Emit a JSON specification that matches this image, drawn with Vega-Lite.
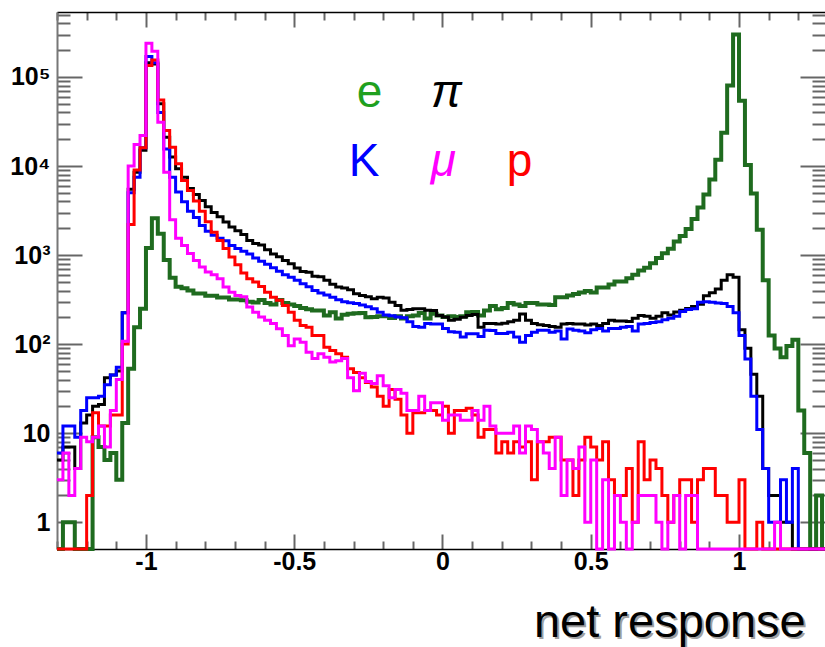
{
  "$schema": "https://vega.github.io/schema/vega-lite/v6.json",
  "width": 768,
  "height": 537,
  "autosize": {"type": "none"},
  "padding": {"left": 57, "top": 12, "right": 0, "bottom": 98},
  "background": "white",
  "config": {"view": {"stroke": null}},
  "datasets": {
    "e": [{"x":-1.3,"n":0},{"x":-1.28,"n":1},{"x":-1.26,"n":1},{"x":-1.24,"n":0},{"x":-1.22,"n":0},{"x":-1.2,"n":0},{"x":-1.18,"n":9},{"x":-1.16,"n":7},{"x":-1.14,"n":5},{"x":-1.12,"n":6},{"x":-1.1,"n":3},{"x":-1.08,"n":13},{"x":-1.06,"n":53},{"x":-1.04,"n":155},{"x":-1.02,"n":250},{"x":-1,"n":1200},{"x":-0.98,"n":2600},{"x":-0.96,"n":1740},{"x":-0.94,"n":880},{"x":-0.92,"n":555},{"x":-0.9,"n":440},{"x":-0.88,"n":425},{"x":-0.86,"n":400},{"x":-0.84,"n":370},{"x":-0.82,"n":370},{"x":-0.8,"n":350},{"x":-0.78,"n":350},{"x":-0.76,"n":334},{"x":-0.74,"n":334},{"x":-0.72,"n":318},{"x":-0.7,"n":318},{"x":-0.68,"n":310},{"x":-0.66,"n":300},{"x":-0.64,"n":294},{"x":-0.62,"n":313},{"x":-0.6,"n":290},{"x":-0.58,"n":279},{"x":-0.56,"n":313},{"x":-0.54,"n":290},{"x":-0.52,"n":279},{"x":-0.5,"n":268},{"x":-0.48,"n":255},{"x":-0.46,"n":247},{"x":-0.44,"n":238},{"x":-0.42,"n":238},{"x":-0.4,"n":210},{"x":-0.38,"n":228},{"x":-0.36,"n":194},{"x":-0.34,"n":214},{"x":-0.32,"n":219},{"x":-0.3,"n":222},{"x":-0.28,"n":224},{"x":-0.26,"n":200},{"x":-0.24,"n":201},{"x":-0.22,"n":205},{"x":-0.2,"n":205},{"x":-0.18,"n":196},{"x":-0.16,"n":205},{"x":-0.14,"n":194},{"x":-0.12,"n":205},{"x":-0.1,"n":210},{"x":-0.08,"n":224},{"x":-0.06,"n":194},{"x":-0.04,"n":219},{"x":-0.02,"n":210},{"x":0,"n":201},{"x":0.02,"n":205},{"x":0.04,"n":201},{"x":0.06,"n":205},{"x":0.08,"n":228},{"x":0.1,"n":230},{"x":0.12,"n":210},{"x":0.14,"n":238},{"x":0.16,"n":268},{"x":0.18,"n":247},{"x":0.2,"n":255},{"x":0.22,"n":290},{"x":0.24,"n":279},{"x":0.26,"n":268},{"x":0.28,"n":290},{"x":0.3,"n":290},{"x":0.32,"n":279},{"x":0.34,"n":279},{"x":0.36,"n":275},{"x":0.38,"n":337},{"x":0.4,"n":337},{"x":0.42,"n":352},{"x":0.44,"n":365},{"x":0.46,"n":380},{"x":0.48,"n":395},{"x":0.5,"n":380},{"x":0.52,"n":433},{"x":0.54,"n":433},{"x":0.56,"n":467},{"x":0.58,"n":504},{"x":0.6,"n":504},{"x":0.62,"n":550},{"x":0.64,"n":600},{"x":0.66,"n":670},{"x":0.68,"n":720},{"x":0.7,"n":810},{"x":0.72,"n":930},{"x":0.74,"n":1050},{"x":0.76,"n":1180},{"x":0.78,"n":1420},{"x":0.8,"n":1640},{"x":0.82,"n":1960},{"x":0.84,"n":2540},{"x":0.86,"n":3420},{"x":0.88,"n":4800},{"x":0.9,"n":7050},{"x":0.92,"n":11800},{"x":0.94,"n":23700},{"x":0.96,"n":80500},{"x":0.98,"n":300000},{"x":1,"n":54000},{"x":1.02,"n":10300},{"x":1.04,"n":4900},{"x":1.06,"n":1930},{"x":1.08,"n":521},{"x":1.1,"n":125},{"x":1.12,"n":89},{"x":1.14,"n":71},{"x":1.16,"n":95},{"x":1.18,"n":112},{"x":1.2,"n":18},{"x":1.22,"n":6},{"x":1.24,"n":0},{"x":1.26,"n":2},{"x":1.28,"n":0},{"x":1.3,"n":0}],
    "pi": [{"x":-1.3,"n":5},{"x":-1.28,"n":7},{"x":-1.26,"n":7},{"x":-1.24,"n":4},{"x":-1.22,"n":13},{"x":-1.2,"n":16},{"x":-1.18,"n":20},{"x":-1.16,"n":21},{"x":-1.14,"n":42},{"x":-1.12,"n":45},{"x":-1.1,"n":50},{"x":-1.08,"n":225},{"x":-1.06,"n":5500},{"x":-1.04,"n":8500},{"x":-1.02,"n":15000},{"x":-1,"n":145000},{"x":-0.98,"n":140000},{"x":-0.96,"n":50000},{"x":-0.94,"n":21000},{"x":-0.92,"n":12600},{"x":-0.9,"n":9300},{"x":-0.88,"n":7500},{"x":-0.86,"n":5600},{"x":-0.84,"n":4800},{"x":-0.82,"n":4100},{"x":-0.8,"n":3500},{"x":-0.78,"n":3000},{"x":-0.76,"n":2700},{"x":-0.74,"n":2350},{"x":-0.72,"n":2065},{"x":-0.7,"n":1870},{"x":-0.68,"n":1700},{"x":-0.66,"n":1460},{"x":-0.64,"n":1350},{"x":-0.62,"n":1300},{"x":-0.6,"n":1150},{"x":-0.58,"n":1025},{"x":-0.56,"n":960},{"x":-0.54,"n":870},{"x":-0.52,"n":800},{"x":-0.5,"n":715},{"x":-0.48,"n":655},{"x":-0.46,"n":640},{"x":-0.44,"n":580},{"x":-0.42,"n":570},{"x":-0.4,"n":520},{"x":-0.38,"n":470},{"x":-0.36,"n":437},{"x":-0.34,"n":426},{"x":-0.32,"n":408},{"x":-0.3,"n":368},{"x":-0.28,"n":352},{"x":-0.26,"n":340},{"x":-0.24,"n":324},{"x":-0.22,"n":337},{"x":-0.2,"n":330},{"x":-0.18,"n":296},{"x":-0.16,"n":272},{"x":-0.14,"n":240},{"x":-0.12,"n":245},{"x":-0.1,"n":250},{"x":-0.08,"n":250},{"x":-0.06,"n":240},{"x":-0.04,"n":238},{"x":-0.02,"n":210},{"x":0,"n":201},{"x":0.02,"n":185},{"x":0.04,"n":190},{"x":0.06,"n":200},{"x":0.08,"n":210},{"x":0.1,"n":215},{"x":0.12,"n":155},{"x":0.14,"n":170},{"x":0.16,"n":170},{"x":0.18,"n":168},{"x":0.2,"n":172},{"x":0.22,"n":178},{"x":0.24,"n":185},{"x":0.26,"n":218},{"x":0.28,"n":185},{"x":0.3,"n":170},{"x":0.32,"n":165},{"x":0.34,"n":162},{"x":0.36,"n":158},{"x":0.38,"n":155},{"x":0.4,"n":168},{"x":0.42,"n":170},{"x":0.44,"n":168},{"x":0.46,"n":168},{"x":0.48,"n":164},{"x":0.5,"n":168},{"x":0.52,"n":162},{"x":0.54,"n":170},{"x":0.56,"n":185},{"x":0.58,"n":182},{"x":0.6,"n":182},{"x":0.62,"n":180},{"x":0.64,"n":195},{"x":0.66,"n":210},{"x":0.68,"n":205},{"x":0.7,"n":195},{"x":0.72,"n":205},{"x":0.74,"n":225},{"x":0.76,"n":212},{"x":0.78,"n":230},{"x":0.8,"n":240},{"x":0.82,"n":251},{"x":0.84,"n":265},{"x":0.86,"n":280},{"x":0.88,"n":350},{"x":0.9,"n":378},{"x":0.92,"n":417},{"x":0.94,"n":522},{"x":0.96,"n":600},{"x":0.98,"n":565},{"x":1,"n":145},{"x":1.02,"n":90},{"x":1.04,"n":46},{"x":1.06,"n":26},{"x":1.08,"n":4},{"x":1.1,"n":2},{"x":1.12,"n":2},{"x":1.14,"n":1},{"x":1.16,"n":1},{"x":1.18,"n":0},{"x":1.2,"n":0},{"x":1.22,"n":0},{"x":1.24,"n":0},{"x":1.26,"n":0},{"x":1.28,"n":0},{"x":1.3,"n":0}],
    "K": [{"x":-1.3,"n":6},{"x":-1.28,"n":12},{"x":-1.26,"n":12},{"x":-1.24,"n":9},{"x":-1.22,"n":18},{"x":-1.2,"n":25},{"x":-1.18,"n":25},{"x":-1.16,"n":26},{"x":-1.14,"n":35},{"x":-1.12,"n":45},{"x":-1.1,"n":55},{"x":-1.08,"n":225},{"x":-1.06,"n":5000},{"x":-1.04,"n":7500},{"x":-1.02,"n":16000},{"x":-1,"n":170000},{"x":-0.98,"n":145000},{"x":-0.96,"n":40000},{"x":-0.94,"n":15500},{"x":-0.92,"n":7500},{"x":-0.9,"n":5100},{"x":-0.88,"n":3970},{"x":-0.86,"n":3100},{"x":-0.84,"n":2640},{"x":-0.82,"n":2150},{"x":-0.8,"n":1850},{"x":-0.78,"n":1665},{"x":-0.76,"n":1550},{"x":-0.74,"n":1445},{"x":-0.72,"n":1285},{"x":-0.7,"n":1185},{"x":-0.68,"n":1105},{"x":-0.66,"n":1025},{"x":-0.64,"n":930},{"x":-0.62,"n":850},{"x":-0.6,"n":790},{"x":-0.58,"n":720},{"x":-0.56,"n":660},{"x":-0.54,"n":600},{"x":-0.52,"n":565},{"x":-0.5,"n":520},{"x":-0.48,"n":477},{"x":-0.46,"n":440},{"x":-0.44,"n":400},{"x":-0.42,"n":375},{"x":-0.4,"n":355},{"x":-0.38,"n":335},{"x":-0.36,"n":315},{"x":-0.34,"n":300},{"x":-0.32,"n":292},{"x":-0.3,"n":285},{"x":-0.28,"n":275},{"x":-0.26,"n":262},{"x":-0.24,"n":250},{"x":-0.22,"n":228},{"x":-0.2,"n":212},{"x":-0.18,"n":208},{"x":-0.16,"n":201},{"x":-0.14,"n":198},{"x":-0.12,"n":178},{"x":-0.1,"n":158},{"x":-0.08,"n":155},{"x":-0.06,"n":170},{"x":-0.04,"n":168},{"x":-0.02,"n":168},{"x":0,"n":150},{"x":0.02,"n":138},{"x":0.04,"n":136},{"x":0.06,"n":120},{"x":0.08,"n":131},{"x":0.1,"n":131},{"x":0.12,"n":122},{"x":0.14,"n":143},{"x":0.16,"n":142},{"x":0.18,"n":132},{"x":0.2,"n":132},{"x":0.22,"n":136},{"x":0.24,"n":120},{"x":0.26,"n":105},{"x":0.28,"n":125},{"x":0.3,"n":136},{"x":0.32,"n":143},{"x":0.34,"n":143},{"x":0.36,"n":136},{"x":0.38,"n":140},{"x":0.4,"n":114},{"x":0.42,"n":148},{"x":0.44,"n":143},{"x":0.46,"n":140},{"x":0.48,"n":134},{"x":0.5,"n":145},{"x":0.52,"n":150},{"x":0.54,"n":140},{"x":0.56,"n":150},{"x":0.58,"n":150},{"x":0.6,"n":155},{"x":0.62,"n":158},{"x":0.64,"n":140},{"x":0.66,"n":168},{"x":0.68,"n":170},{"x":0.7,"n":175},{"x":0.72,"n":178},{"x":0.74,"n":188},{"x":0.76,"n":195},{"x":0.78,"n":205},{"x":0.8,"n":232},{"x":0.82,"n":245},{"x":0.84,"n":250},{"x":0.86,"n":295},{"x":0.88,"n":300},{"x":0.9,"n":295},{"x":0.92,"n":290},{"x":0.94,"n":285},{"x":0.96,"n":265},{"x":0.98,"n":225},{"x":1,"n":125},{"x":1.02,"n":68},{"x":1.04,"n":26},{"x":1.06,"n":11},{"x":1.08,"n":4},{"x":1.1,"n":1},{"x":1.12,"n":1},{"x":1.14,"n":3},{"x":1.16,"n":1},{"x":1.18,"n":4},{"x":1.2,"n":0},{"x":1.22,"n":0},{"x":1.24,"n":0},{"x":1.26,"n":0},{"x":1.28,"n":0},{"x":1.3,"n":0}],
    "p": [{"x":-1.3,"n":0},{"x":-1.28,"n":0},{"x":-1.26,"n":0},{"x":-1.24,"n":0},{"x":-1.22,"n":0},{"x":-1.2,"n":2},{"x":-1.18,"n":17},{"x":-1.16,"n":12},{"x":-1.14,"n":12},{"x":-1.12,"n":16},{"x":-1.1,"n":16},{"x":-1.08,"n":100},{"x":-1.06,"n":2200},{"x":-1.04,"n":9000},{"x":-1.02,"n":16000},{"x":-1,"n":135000},{"x":-0.98,"n":155000},{"x":-0.96,"n":55000},{"x":-0.94,"n":25000},{"x":-0.92,"n":16300},{"x":-0.9,"n":10600},{"x":-0.88,"n":6900},{"x":-0.86,"n":5300},{"x":-0.84,"n":4050},{"x":-0.82,"n":3100},{"x":-0.8,"n":2370},{"x":-0.78,"n":1810},{"x":-0.76,"n":1460},{"x":-0.74,"n":1185},{"x":-0.72,"n":950},{"x":-0.7,"n":780},{"x":-0.68,"n":630},{"x":-0.66,"n":543},{"x":-0.64,"n":498},{"x":-0.62,"n":443},{"x":-0.6,"n":382},{"x":-0.58,"n":337},{"x":-0.56,"n":310},{"x":-0.54,"n":272},{"x":-0.52,"n":228},{"x":-0.5,"n":185},{"x":-0.48,"n":162},{"x":-0.46,"n":155},{"x":-0.44,"n":125},{"x":-0.42,"n":125},{"x":-0.4,"n":92},{"x":-0.38,"n":85},{"x":-0.36,"n":78},{"x":-0.34,"n":71},{"x":-0.32,"n":53},{"x":-0.3,"n":48},{"x":-0.28,"n":42},{"x":-0.26,"n":37},{"x":-0.24,"n":33},{"x":-0.22,"n":26},{"x":-0.2,"n":20},{"x":-0.18,"n":31},{"x":-0.16,"n":24},{"x":-0.14,"n":16},{"x":-0.12,"n":10},{"x":-0.1,"n":17},{"x":-0.08,"n":17},{"x":-0.06,"n":18},{"x":-0.04,"n":18},{"x":-0.02,"n":16},{"x":0,"n":20},{"x":0.02,"n":10},{"x":0.04,"n":18},{"x":0.06,"n":18},{"x":0.08,"n":19},{"x":0.1,"n":16},{"x":0.12,"n":9},{"x":0.14,"n":11},{"x":0.16,"n":11},{"x":0.18,"n":6},{"x":0.2,"n":8},{"x":0.22,"n":6},{"x":0.24,"n":8},{"x":0.26,"n":7},{"x":0.28,"n":8},{"x":0.3,"n":3},{"x":0.32,"n":8},{"x":0.34,"n":8},{"x":0.36,"n":9},{"x":0.38,"n":9},{"x":0.4,"n":5},{"x":0.42,"n":5},{"x":0.44,"n":2},{"x":0.46,"n":5},{"x":0.48,"n":9},{"x":0.5,"n":7},{"x":0.52,"n":5},{"x":0.54,"n":8},{"x":0.56,"n":3},{"x":0.58,"n":2},{"x":0.6,"n":2},{"x":0.62,"n":4},{"x":0.64,"n":1},{"x":0.66,"n":8},{"x":0.68,"n":3},{"x":0.7,"n":5},{"x":0.72,"n":4},{"x":0.74,"n":2},{"x":0.76,"n":1},{"x":0.78,"n":2},{"x":0.8,"n":3},{"x":0.82,"n":3},{"x":0.84,"n":1},{"x":0.86,"n":3},{"x":0.88,"n":4},{"x":0.9,"n":4},{"x":0.92,"n":2},{"x":0.94,"n":2},{"x":0.96,"n":1},{"x":0.98,"n":1},{"x":1,"n":3},{"x":1.02,"n":0},{"x":1.04,"n":0},{"x":1.06,"n":1},{"x":1.08,"n":0},{"x":1.1,"n":0},{"x":1.12,"n":0},{"x":1.14,"n":0},{"x":1.16,"n":0},{"x":1.18,"n":0},{"x":1.2,"n":0},{"x":1.22,"n":0},{"x":1.24,"n":0},{"x":1.26,"n":0},{"x":1.28,"n":0},{"x":1.3,"n":0}],
    "mu": [{"x":-1.3,"n":3},{"x":-1.28,"n":6},{"x":-1.26,"n":2},{"x":-1.24,"n":4},{"x":-1.22,"n":9},{"x":-1.2,"n":8},{"x":-1.18,"n":9},{"x":-1.16,"n":12},{"x":-1.14,"n":7},{"x":-1.12,"n":18},{"x":-1.1,"n":40},{"x":-1.08,"n":108},{"x":-1.06,"n":10000},{"x":-1.04,"n":17500},{"x":-1.02,"n":22000},{"x":-1,"n":240000},{"x":-0.98,"n":195000},{"x":-0.96,"n":31000},{"x":-0.94,"n":8500},{"x":-0.92,"n":2500},{"x":-0.9,"n":1550},{"x":-0.88,"n":1285},{"x":-0.86,"n":1040},{"x":-0.84,"n":870},{"x":-0.82,"n":733},{"x":-0.8,"n":645},{"x":-0.78,"n":600},{"x":-0.76,"n":543},{"x":-0.74,"n":437},{"x":-0.72,"n":382},{"x":-0.7,"n":352},{"x":-0.68,"n":340},{"x":-0.66,"n":261},{"x":-0.64,"n":228},{"x":-0.62,"n":201},{"x":-0.6,"n":185},{"x":-0.58,"n":170},{"x":-0.56,"n":149},{"x":-0.54,"n":125},{"x":-0.52,"n":96},{"x":-0.5,"n":114},{"x":-0.48,"n":105},{"x":-0.46,"n":81},{"x":-0.44,"n":69},{"x":-0.42,"n":78},{"x":-0.4,"n":71},{"x":-0.38,"n":63},{"x":-0.36,"n":65},{"x":-0.34,"n":69},{"x":-0.32,"n":42},{"x":-0.3,"n":30},{"x":-0.28,"n":47},{"x":-0.26,"n":38},{"x":-0.24,"n":36},{"x":-0.22,"n":44},{"x":-0.2,"n":34},{"x":-0.18,"n":25},{"x":-0.16,"n":31},{"x":-0.14,"n":28},{"x":-0.12,"n":18},{"x":-0.1,"n":18},{"x":-0.08,"n":26},{"x":-0.06,"n":18},{"x":-0.04,"n":22},{"x":-0.02,"n":22},{"x":0,"n":14},{"x":0.02,"n":16},{"x":0.04,"n":16},{"x":0.06,"n":14},{"x":0.08,"n":14},{"x":0.1,"n":18},{"x":0.12,"n":14},{"x":0.14,"n":20},{"x":0.16,"n":12},{"x":0.18,"n":10},{"x":0.2,"n":10},{"x":0.22,"n":10},{"x":0.24,"n":12},{"x":0.26,"n":6},{"x":0.28,"n":12},{"x":0.3,"n":11},{"x":0.32,"n":8},{"x":0.34,"n":6},{"x":0.36,"n":4},{"x":0.38,"n":9},{"x":0.4,"n":2},{"x":0.42,"n":5},{"x":0.44,"n":4},{"x":0.46,"n":7},{"x":0.48,"n":1},{"x":0.5,"n":5},{"x":0.52,"n":0},{"x":0.54,"n":3},{"x":0.56,"n":0},{"x":0.58,"n":2},{"x":0.6,"n":1},{"x":0.62,"n":0},{"x":0.64,"n":1},{"x":0.66,"n":2},{"x":0.68,"n":2},{"x":0.7,"n":2},{"x":0.72,"n":1},{"x":0.74,"n":0},{"x":0.76,"n":1},{"x":0.78,"n":2},{"x":0.8,"n":0},{"x":0.82,"n":2},{"x":0.84,"n":2},{"x":0.86,"n":0},{"x":0.88,"n":0},{"x":0.9,"n":0},{"x":0.92,"n":0},{"x":0.94,"n":0},{"x":0.96,"n":0},{"x":0.98,"n":0},{"x":1,"n":0},{"x":1.02,"n":0},{"x":1.04,"n":0},{"x":1.06,"n":0},{"x":1.08,"n":0},{"x":1.1,"n":0},{"x":1.12,"n":1},{"x":1.14,"n":0},{"x":1.16,"n":0},{"x":1.18,"n":0},{"x":1.2,"n":0},{"x":1.22,"n":0},{"x":1.24,"n":0},{"x":1.26,"n":0},{"x":1.28,"n":0},{"x":1.3,"n":0}],
    "labels": [{"t":"e","x":-0.246,"y":45500},{"t":"K","x":-0.264,"y":7660},{"t":"p","x":0.26,"y":7660}],
    "greek": [{"t":"π","x":0.013,"y":45500},{"t":"μ","x":0.003,"y":7660}],
    "title": [{"t":"net response","x":1.225,"y":0.052}]
  },
  "resolve": {"axis": {"x": "independent", "y": "independent"}},
  "layer": [
    {
      "data": {"name": "e"},
      "transform": [{"calculate": "datum.n > 0 ? datum.n : 0.5", "as": "v"}],
      "mark": {"type": "line", "interpolate": "step-after", "color": "#1f6b1f", "strokeWidth": 4, "strokeJoin": "miter"},
      "encoding": {
        "x": {"field": "x", "type": "quantitative",
          "scale": {"type": "linear", "domain": [-1.3, 1.29], "nice": false, "zero": false},
          "axis": {"orient": "bottom", "title": null, "grid": false,
            "values": [-1.3,-1.2,-1.1,-1,-0.9,-0.8,-0.7,-0.6,-0.5,-0.4,-0.3,-0.2,-0.1,0,0.1,0.2,0.3,0.4,0.5,0.6,0.7,0.8,0.9,1,1.1,1.2],
            "labelExpr": "abs(datum.value*2-round(datum.value*2))<0.001 ? (abs(datum.value)<0.001 ? '0' : toString(round(datum.value*10)/10)) : ''",
            "tickSize": {"condition": {"test": "abs(datum.value*2-round(datum.value*2))<0.001", "value": -15}, "value": -8},
            "tickColor": "#666666", "tickWidth": 2,
            "domainColor": "#000000", "domainWidth": 1.5,
            "labelFont": "Liberation Sans", "labelFontWeight": "bold", "labelFontSize": 25, "labelColor": "#000000",
            "labelPadding": 15, "labelFlush": false, "labelOverlap": false}},
        "y": {"field": "v", "type": "quantitative",
          "scale": {"type": "log", "domain": [0.5, 537000], "nice": false},
          "axis": {"orient": "left", "title": null, "grid": false,
            "values": [1,2,3,4,5,6,7,8,9,10,20,30,40,50,60,70,80,90,100,200,300,400,500,600,700,800,900,1000,2000,3000,4000,5000,6000,7000,8000,9000,10000,20000,30000,40000,50000,60000,70000,80000,90000,100000,200000,300000,400000,500000],
            "labelExpr": "datum.value==1?'1':datum.value==10?'10':datum.value==100?'10²':datum.value==1000?'10³':datum.value==10000?'10⁴':datum.value==100000?'10⁵':''",
            "tickSize": {"condition": {"test": "indexof([1,10,100,1000,10000,100000], datum.value) >= 0", "value": -25}, "value": -13},
            "tickColor": "#666666", "tickWidth": 2,
            "domainColor": "#777777", "domainWidth": 2,
            "labelFont": "Liberation Sans", "labelFontWeight": "bold", "labelFontSize": 25, "labelColor": "#000000",
            "labelPadding": 32, "labelFlush": false, "labelOverlap": false}}
      }
    },
    {
      "data": {"name": "pi"},
      "transform": [{"calculate": "datum.n > 0 ? datum.n : 0.5", "as": "v"}],
      "mark": {"type": "line", "interpolate": "step-after", "color": "#000000", "strokeWidth": 3, "strokeJoin": "miter"},
      "encoding": {
        "x": {"field": "x", "type": "quantitative",
          "scale": {"type": "linear", "domain": [-1.3, 1.29], "nice": false, "zero": false},
          "axis": {"orient": "top", "title": null, "grid": false, "labels": false,
            "values": [-1.3,-1.2,-1.1,-1,-0.9,-0.8,-0.7,-0.6,-0.5,-0.4,-0.3,-0.2,-0.1,0,0.1,0.2,0.3,0.4,0.5,0.6,0.7,0.8,0.9,1,1.1,1.2],
            "tickSize": {"condition": {"test": "abs(datum.value*2-round(datum.value*2))<0.001", "value": -15}, "value": -8},
            "tickColor": "#666666", "tickWidth": 2,
            "domainColor": "#000000", "domainWidth": 1.5}},
        "y": {"field": "v", "type": "quantitative",
          "scale": {"type": "log", "domain": [0.5, 537000], "nice": false},
          "axis": {"orient": "right", "title": null, "grid": false, "labels": false, "domain": false,
            "values": [1,2,3,4,5,6,7,8,9,10,20,30,40,50,60,70,80,90,100,200,300,400,500,600,700,800,900,1000,2000,3000,4000,5000,6000,7000,8000,9000,10000,20000,30000,40000,50000,60000,70000,80000,90000,100000,200000,300000,400000,500000],
            "tickSize": {"condition": {"test": "indexof([1,10,100,1000,10000,100000], datum.value) >= 0", "value": -25}, "value": -13},
            "tickColor": "#666666", "tickWidth": 2}}
      }
    },
    {
      "data": {"name": "K"},
      "transform": [{"calculate": "datum.n > 0 ? datum.n : 0.5", "as": "v"}],
      "mark": {"type": "line", "interpolate": "step-after", "color": "#0000ff", "strokeWidth": 3, "strokeJoin": "miter"},
      "encoding": {
        "x": {"field": "x", "type": "quantitative", "scale": {"type": "linear", "domain": [-1.3, 1.29], "nice": false, "zero": false}, "axis": null},
        "y": {"field": "v", "type": "quantitative", "scale": {"type": "log", "domain": [0.5, 537000], "nice": false}, "axis": null}
      }
    },
    {
      "data": {"name": "p"},
      "transform": [{"calculate": "datum.n > 0 ? datum.n : 0.5", "as": "v"}],
      "mark": {"type": "line", "interpolate": "step-after", "color": "#ff0000", "strokeWidth": 3, "strokeJoin": "miter"},
      "encoding": {
        "x": {"field": "x", "type": "quantitative", "scale": {"type": "linear", "domain": [-1.3, 1.29], "nice": false, "zero": false}, "axis": null},
        "y": {"field": "v", "type": "quantitative", "scale": {"type": "log", "domain": [0.5, 537000], "nice": false}, "axis": null}
      }
    },
    {
      "data": {"name": "mu"},
      "transform": [{"calculate": "datum.n > 0 ? datum.n : 0.5", "as": "v"}],
      "mark": {"type": "line", "interpolate": "step-after", "color": "#ff00ff", "strokeWidth": 3, "strokeJoin": "miter"},
      "encoding": {
        "x": {"field": "x", "type": "quantitative", "scale": {"type": "linear", "domain": [-1.3, 1.29], "nice": false, "zero": false}, "axis": null},
        "y": {"field": "v", "type": "quantitative", "scale": {"type": "log", "domain": [0.5, 537000], "nice": false}, "axis": null}
      }
    },
    {
      "data": {"name": "labels"},
      "mark": {"type": "text", "font": "Liberation Sans", "fontSize": 46, "align": "center", "baseline": "alphabetic"},
      "encoding": {
        "x": {"field": "x", "type": "quantitative", "scale": {"type": "linear", "domain": [-1.3, 1.29], "nice": false, "zero": false}, "axis": null},
        "y": {"field": "y", "type": "quantitative", "scale": {"type": "log", "domain": [0.5, 537000], "nice": false}, "axis": null},
        "text": {"field": "t"},
        "color": {"field": "t", "type": "nominal", "legend": null,
          "scale": {"domain": ["e","π","K","μ","p"], "range": ["#1fa01f","#000000","#0000ff","#ff00ff","#ff0000"]}}
      }
    },
    {
      "data": {"name": "greek"},
      "mark": {"type": "text", "font": "Liberation Sans", "fontStyle": "italic", "fontSize": 46, "align": "center", "baseline": "alphabetic"},
      "encoding": {
        "x": {"field": "x", "type": "quantitative", "scale": {"type": "linear", "domain": [-1.3, 1.29], "nice": false, "zero": false}, "axis": null},
        "y": {"field": "y", "type": "quantitative", "scale": {"type": "log", "domain": [0.5, 537000], "nice": false}, "axis": null},
        "text": {"field": "t"},
        "color": {"field": "t", "type": "nominal", "legend": null,
          "scale": {"domain": ["e","π","K","μ","p"], "range": ["#1fa01f","#000000","#0000ff","#ff00ff","#ff0000"]}}
      }
    },
    {
      "data": {"name": "title"},
      "mark": {"type": "text", "font": "Liberation Sans", "fontSize": 47, "align": "right", "baseline": "alphabetic", "color": "#a0a0a0", "dx": 2, "dy": 2},
      "encoding": {
        "x": {"field": "x", "type": "quantitative", "scale": {"type": "linear", "domain": [-1.3, 1.29], "nice": false, "zero": false}, "axis": null},
        "y": {"field": "y", "type": "quantitative", "scale": {"type": "log", "domain": [0.5, 537000], "nice": false}, "axis": null},
        "text": {"field": "t"}
      }
    },
    {
      "data": {"name": "title"},
      "mark": {"type": "text", "font": "Liberation Sans", "fontSize": 47, "align": "right", "baseline": "alphabetic", "color": "#000000"},
      "encoding": {
        "x": {"field": "x", "type": "quantitative", "scale": {"type": "linear", "domain": [-1.3, 1.29], "nice": false, "zero": false}, "axis": null},
        "y": {"field": "y", "type": "quantitative", "scale": {"type": "log", "domain": [0.5, 537000], "nice": false}, "axis": null},
        "text": {"field": "t"}
      }
    }
  ]
}
